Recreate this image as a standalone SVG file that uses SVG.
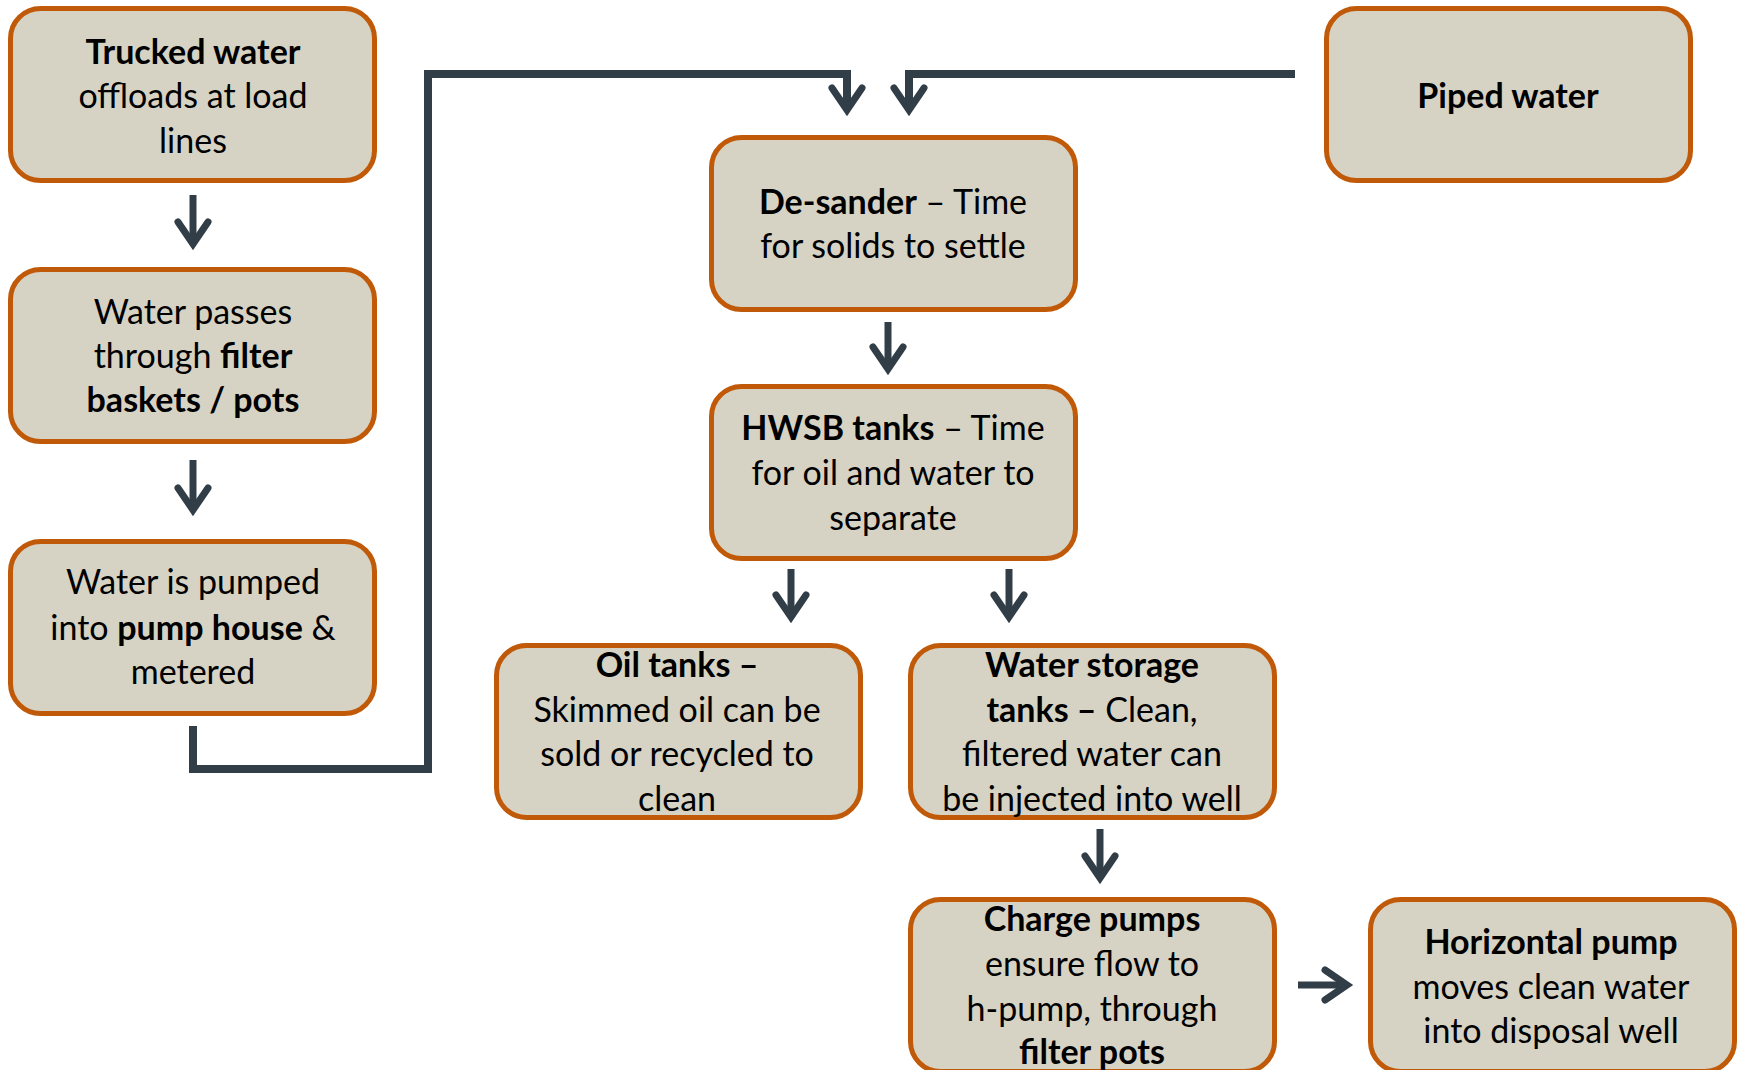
<svg xmlns="http://www.w3.org/2000/svg" width="1739" height="1070" viewBox="0 0 1739 1070">
<style>
.box{fill:#D6D3C4;stroke:#C05A08;stroke-width:5}
.t{font-family:Lato,"Liberation Sans",sans-serif;font-size:34px;fill:#000;text-anchor:middle}
.b{font-weight:bold}
.c{fill:none;stroke:#323E47;stroke-width:7;stroke-linejoin:miter}
.e{stroke-width:8}
</style>
<defs>
<marker id="chev" markerUnits="userSpaceOnUse" viewBox="-32 -22 42 44" refX="0" refY="0" markerWidth="42" markerHeight="44" orient="auto" overflow="visible">
<path d="M-22 -15 L0 0 L-22 15" fill="none" stroke="#323E47" stroke-width="7" stroke-linecap="round" stroke-linejoin="miter"/>
</marker>
</defs>
<g id="connectors">
<path class="c" d="M193 195 V244" marker-end="url(#chev)"/>
<path class="c" d="M193 460 V510" marker-end="url(#chev)"/>
<path class="c" d="M888 322 V369" marker-end="url(#chev)"/>
<path class="c" d="M791 569 V617" marker-end="url(#chev)"/>
<path class="c" d="M1009 569 V617" marker-end="url(#chev)"/>
<path class="c" d="M1100 829 V878" marker-end="url(#chev)"/>
<path class="c" d="M1298 985 H1347" marker-end="url(#chev)"/>
<path class="c e" d="M193 726 V769 H428 V74 H847 V110" marker-end="url(#chev)"/>
<path class="c e" d="M1295 74 H909 V110" marker-end="url(#chev)"/>
</g>
<g id="trucked">
<rect class="box" x="10.5" y="8.5" width="364" height="172" rx="30"/>
<text class="t"><tspan x="193" y="64" class="b">Trucked water</tspan><tspan x="193" y="108">offloads at load</tspan><tspan x="193" y="153">lines</tspan></text>
</g>
<g id="filter">
<rect class="box" x="10.5" y="269.5" width="364" height="172" rx="30"/>
<text class="t"><tspan x="193" y="324">Water passes</tspan><tspan x="193" y="368">through <tspan class="b">filter</tspan></tspan><tspan x="193" y="412" class="b">baskets / pots</tspan></text>
</g>
<g id="pumphouse">
<rect class="box" x="10.5" y="541.5" width="364" height="172" rx="30"/>
<text class="t"><tspan x="193" y="594">Water is pumped</tspan><tspan x="193" y="640">into <tspan class="b">pump house</tspan> &amp;</tspan><tspan x="193" y="684">metered</tspan></text>
</g>
<g id="piped">
<rect class="box" x="1326.5" y="8.5" width="364" height="172" rx="30"/>
<text class="t"><tspan x="1508" y="108" class="b">Piped water</tspan></text>
</g>
<g id="desander">
<rect class="box" x="711.5" y="137.5" width="364" height="172" rx="30"/>
<text class="t"><tspan x="893" y="214"><tspan class="b">De-sander</tspan> – Time</tspan><tspan x="893" y="258">for solids to settle</tspan></text>
</g>
<g id="hwsb">
<rect class="box" x="711.5" y="386.5" width="364" height="172" rx="30"/>
<text class="t"><tspan x="893" y="440"><tspan class="b">HWSB tanks</tspan> – Time</tspan><tspan x="893" y="485">for oil and water to</tspan><tspan x="893" y="530">separate</tspan></text>
</g>
<g id="oil">
<rect class="box" x="496.5" y="645.5" width="364" height="172" rx="30"/>
<text class="t"><tspan x="677" y="677" class="b">Oil tanks –</tspan><tspan x="677" y="722">Skimmed oil can be</tspan><tspan x="677" y="766">sold or recycled to</tspan><tspan x="677" y="811">clean</tspan></text>
</g>
<g id="storage">
<rect class="box" x="910.5" y="645.5" width="364" height="172" rx="30"/>
<text class="t"><tspan x="1092" y="677" class="b">Water storage</tspan><tspan x="1092" y="722"><tspan class="b">tanks –</tspan> Clean,</tspan><tspan x="1092" y="766">filtered water can</tspan><tspan x="1092" y="811">be injected into well</tspan></text>
</g>
<g id="charge">
<rect class="box" x="910.5" y="899.5" width="364" height="172" rx="30"/>
<text class="t"><tspan x="1092" y="931" class="b">Charge pumps</tspan><tspan x="1092" y="976">ensure flow to</tspan><tspan x="1092" y="1021">h-pump, through</tspan><tspan x="1092" y="1064" class="b">filter pots</tspan></text>
</g>
<g id="horizontal">
<rect class="box" x="1370.5" y="899.5" width="364" height="172" rx="30"/>
<text class="t"><tspan x="1551" y="954" class="b">Horizontal pump</tspan><tspan x="1551" y="999">moves clean water</tspan><tspan x="1551" y="1043">into disposal well</tspan></text>
</g>
</svg>
